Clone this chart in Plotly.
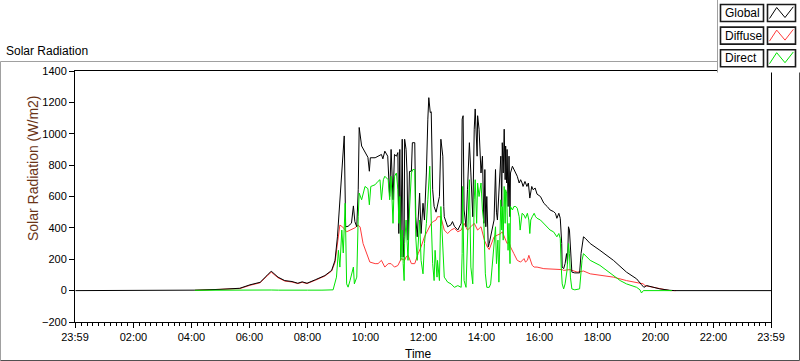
import plotly.graph_objects as go

DAY = "2024-01-02 "
X_START = "2024-01-01 23:59"
X_END = "2024-01-02 23:59"

tick_times = ["2024-01-01 23:59", DAY + "02:00", DAY + "04:00", DAY + "06:00", DAY + "08:00",
              DAY + "10:00", DAY + "12:00", DAY + "14:00", DAY + "16:00", DAY + "18:00",
              DAY + "20:00", DAY + "22:00", DAY + "23:59"]
tick_labels = ["23:59", "02:00", "04:00", "06:00", "08:00", "10:00", "12:00",
               "14:00", "16:00", "18:00", "20:00", "22:00", "23:59"]

global_times = ["00:00", "04:00", "04:07", "04:59", "05:40", "06:01", "06:22", "06:36", "06:45", "06:59",
                "07:13", "07:28", "07:40", "07:49", "07:59", "08:16", "08:36", "08:50", "08:57", "09:02",
                "09:05", "09:11", "09:16", "09:19", "09:24", "09:31", "09:35", "09:38", "09:42", "09:45",
                "09:47", "09:52", "09:59", "10:05", "10:08", "10:10", "10:20", "10:26", "10:33", "10:36",
                "10:40", "10:46", "10:50", "10:53", "10:57", "11:00", "11:04", "11:07", "11:09", "11:11",
                "11:13", "11:16", "11:18", "11:20", "11:21", "11:24", "11:26", "11:28", "11:31", "11:35",
                "11:37", "11:42", "11:44", "11:47", "11:52", "11:55", "11:59", "12:02", "12:06", "12:09",
                "12:11", "12:14", "12:16", "12:19", "12:22", "12:26", "12:29", "12:33", "12:36", "12:40",
                "12:42", "12:43", "12:50", "12:57", "13:00", "13:04", "13:11", "13:14", "13:18", "13:20",
                "13:22", "13:24", "13:28", "13:31", "13:35", "13:38", "13:42", "13:45", "13:47", "13:51",
                "13:52", "13:55", "13:59", "14:02", "14:05", "14:07", "14:09", "14:11", "14:14", "14:16",
                "14:19", "14:22", "14:26", "14:29", "14:31", "14:33", "14:36", "14:40", "14:42", "14:43",
                "14:45", "14:47", "14:49", "14:50", "14:52", "14:53", "14:55", "14:57", "14:59", "15:00",
                "15:04", "15:07", "15:11", "15:14", "15:18", "15:21", "15:24", "15:26", "15:30", "15:34",
                "15:37", "15:40", "15:44", "15:47", "15:51", "15:55", "16:02", "16:09", "16:16", "16:22",
                "16:29", "16:33", "16:36", "16:40", "16:43", "16:46", "16:47", "16:50", "16:53", "16:56",
                "16:58", "17:00", "17:02", "17:04", "17:06", "17:07", "17:13", "17:23", "17:26", "17:28",
                "17:31", "17:35", "17:38", "17:45", "18:05", "18:33", "19:00", "19:21", "19:31", "19:36",
                "19:42", "19:55", "20:09", "20:30", "20:40", "23:59"]
global_vals = [0, 0, 3, 8, 15, 37, 53, 96, 124, 86,
               64, 58, 47, 56, 47, 69, 96, 129, 193, 343,
               471, 729, 986, 407, 410, 430, 540, 440, 407, 643,
               1040, 922, 879, 850, 761, 847, 847, 857, 868, 840,
               889, 857, 600, 900, 579, 868, 857, 880, 364, 900,
               214, 965, 214, 343, 965, 900, 750, 322, 760, 761,
               943, 943, 471, 343, 622, 364, 557, 450, 750, 1093,
               1230, 1135, 1140, 643, 536, 500, 536, 600, 965, 857,
               536, 471, 407, 420, 440, 410, 386, 407, 430, 1093,
               1115, 514, 407, 643, 943, 750, 471, 1029, 1158, 857,
               1115, 1029, 750, 857, 429, 772, 407, 600, 279, 300,
               343, 386, 450, 772, 500, 450, 643, 857, 536, 943,
               750, 1029, 707, 922, 686, 900, 536, 857, 471, 750,
               793, 772, 750, 729, 686, 707, 686, 664, 696, 664,
               686, 590, 664, 643, 654, 615, 600, 557, 536, 514,
               504, 493, 461, 493, 461, 300, 150, 140, 172, 236,
               172, 407, 386, 236, 129, 118, 113, 113, 236, 290,
               343, 333, 322, 300, 257, 193, 118, 75, 38, 21,
               32, 21, 11, 2, 0, 0]

diffuse_times = ["04:07", "04:59", "05:40", "06:01", "06:22", "06:36", "06:45", "06:59", "07:13", "07:28",
                 "07:40", "07:49", "07:59", "08:16", "08:36", "08:50", "08:57", "09:07", "09:13", "09:21",
                 "09:31", "09:38", "09:45", "09:49", "09:55", "10:02", "10:09", "10:20", "10:26", "10:33",
                 "10:40", "10:47", "10:53", "11:00", "11:07", "11:14", "11:21", "11:24", "11:28", "11:35",
                 "11:42", "11:49", "11:55", "12:02", "12:09", "12:16", "12:20", "12:26", "12:29", "12:36",
                 "12:43", "12:50", "12:57", "13:04", "13:11", "13:18", "13:24", "13:31", "13:38", "13:45",
                 "13:52", "13:59", "14:06", "14:09", "14:12", "14:16", "14:19", "14:26", "14:33", "14:40",
                 "14:43", "14:47", "14:53", "14:57", "15:00", "15:07", "15:14", "15:21", "15:28", "15:31",
                 "15:35", "15:38", "15:42", "15:45", "15:49", "15:55", "16:09", "16:22", "16:36", "16:47",
                 "16:50", "17:03", "17:18", "17:31", "17:45", "18:05", "18:33", "19:00", "19:21", "19:35",
                 "19:38", "19:55", "20:09", "20:30", "20:42"]
diffuse_vals = [2, 7, 13, 34, 50, 92, 118, 82, 61, 55,
                45, 53, 45, 66, 93, 125, 180, 418, 405, 375,
                390, 400, 418, 405, 300, 236, 182, 172, 172, 193,
                150, 172, 172, 150, 160, 204, 193, 215, 225, 172,
                172, 236, 279, 343, 386, 429, 440, 450, 471, 471,
                386, 364, 386, 397, 375, 386, 429, 386, 407, 429,
                386, 407, 322, 300, 279, 262, 290, 343, 354, 364,
                375, 343, 300, 311, 279, 236, 193, 182, 204, 182,
                193, 225, 193, 161, 150, 150, 140, 139, 134, 134,
                129, 134, 118, 125, 107, 97, 86, 64, 54, 43,
                32, 21, 10, 0, 0]

direct_times = ["04:07", "05:00", "06:00", "06:36", "06:45", "07:00", "07:30", "08:00", "08:30", "08:53",
                "09:00", "09:04", "09:07", "09:11", "09:14", "09:18", "09:21", "09:24", "09:28", "09:31",
                "09:35", "09:37", "09:42", "09:45", "09:47", "09:52", "09:59", "10:05", "10:08", "10:11",
                "10:20", "10:26", "10:30", "10:33", "10:37", "10:40", "10:47", "10:50", "10:53", "10:57",
                "11:00", "11:04", "11:07", "11:09", "11:11", "11:13", "11:16", "11:18", "11:20", "11:21",
                "11:24", "11:28", "11:31", "11:35", "11:38", "11:42", "11:44", "11:47", "11:52", "11:55",
                "11:59", "12:02", "12:06", "12:09", "12:13", "12:16", "12:19", "12:22", "12:24", "12:28",
                "12:29", "12:33", "12:36", "12:38", "12:42", "12:43", "12:50", "12:57", "13:04", "13:11",
                "13:18", "13:20", "13:21", "13:24", "13:28", "13:31", "13:35", "13:38", "13:42", "13:45",
                "13:47", "13:50", "13:52", "13:55", "13:59", "14:02", "14:05", "14:08", "14:11", "14:16",
                "14:19", "14:22", "14:26", "14:29", "14:31", "14:34", "14:36", "14:38", "14:40", "14:42",
                "14:43", "14:45", "14:47", "14:49", "14:50", "14:52", "14:53", "14:55", "14:57", "14:59",
                "15:00", "15:04", "15:07", "15:11", "15:14", "15:18", "15:20", "15:22", "15:24", "15:28",
                "15:31", "15:35", "15:38", "15:40", "15:42", "15:45", "15:49", "15:52", "15:55", "16:02",
                "16:09", "16:16", "16:22", "16:29", "16:36", "16:40", "16:43", "16:45", "16:47", "16:50",
                "16:53", "16:57", "17:00", "17:02", "17:04", "17:07", "17:13", "17:23", "17:26", "17:28",
                "17:31", "17:35", "17:38", "17:45", "18:05", "18:33", "18:47", "19:00", "19:21", "19:28",
                "19:31", "19:35", "20:09", "20:34"]
direct_vals = [2, 3, 3, 8, 4, 3, 5, 3, 3, 5,
               86, 257, 150, 386, 240, 557, 43, 22, 64, 100,
               150, 43, 86, 471, 622, 579, 664, 650, 547, 664,
               675, 697, 707, 579, 707, 729, 707, 579, 729, 429,
               729, 750, 643, 429, 600, 193, 386, 172, 64, 300,
               450, 193, 514, 750, 772, 772, 343, 193, 450, 193,
               107, 300, 429, 579, 793, 450, 172, 64, 257, 86,
               193, 64, 536, 407, 193, 86, 54, 43, 21, 32,
               21, 236, 664, 64, 21, 300, 707, 150, 43, 579,
               707, 429, 686, 600, 686, 514, 429, 107, 21, 21,
               43, 150, 300, 407, 172, 322, 54, 429, 579, 386,
               536, 322, 664, 429, 643, 622, 536, 257, 429, 172,
               536, 514, 536, 536, 525, 471, 386, 471, 493, 482,
               461, 493, 450, 364, 450, 471, 493, 471, 461, 450,
               429, 407, 386, 375, 343, 364, 332, 150, 43, 11,
               43, 129, 300, 236, 86, 11, 5, 11, 129, 193,
               236, 225, 214, 193, 161, 97, 64, 43, 21, 5,
               -15, 0, 0, 0]

series_names = ["Global", "Diffuse", "Direct"]
series_colors = ["#000000", "#ff3b3b", "#00e400"]

FONT = "Liberation Sans"

# pixel helpers for frame/legend decoration (plot area: x 75..771, y 71..322)
L, R, T, B = 75, 29, 71, 39
W, H = 800 - L - R, 361 - T - B


def px(x):
    return (x - L) / W


def py(y):
    return (361 - B - y) / H


fig = go.Figure()
data = {
    "Global": (global_times, global_vals),
    "Diffuse": (diffuse_times, diffuse_vals),
    "Direct": (direct_times, direct_vals),
}
for name in ["Diffuse", "Global", "Direct"]:
    t, v = data[name]
    fig.add_trace(go.Scatter(
        x=[DAY + s for s in t], y=v, mode="lines", name=name,
        line=dict(color=series_colors[series_names.index(name)], width=1),
        showlegend=False, hoverinfo="skip"))

shapes = []
annotations = []

# outer container frame
shapes.append(dict(type="line", xref="paper", yref="paper", x0=px(0.5), x1=px(0.5), y0=py(61.5), y1=py(360.5),
                   line=dict(color="#a0a0a0", width=1)))
shapes.append(dict(type="line", xref="paper", yref="paper", x0=px(0.5), x1=px(799.5), y0=py(61.5), y1=py(61.5),
                   line=dict(color="#a0a0a0", width=1)))
shapes.append(dict(type="line", xref="paper", yref="paper", x0=px(0.5), x1=px(799.5), y0=py(360.5), y1=py(360.5),
                   line=dict(color="#505050", width=1)))
shapes.append(dict(type="line", xref="paper", yref="paper", x0=px(799.5), x1=px(799.5), y0=py(61.5), y1=py(360.5),
                   line=dict(color="#505050", width=1)))

# legend panel
shapes.append(dict(type="rect", xref="paper", yref="paper", x0=px(717.5), x1=px(800), y0=py(72.5), y1=py(0),
                   line=dict(width=0), fillcolor="white", layer="above"))
shapes.append(dict(type="line", xref="paper", yref="paper", x0=px(717.5), x1=px(717.5), y0=py(72.5), y1=py(0),
                   line=dict(color="#a0a0a0", width=1), layer="above"))

for i, name in enumerate(series_names):
    dy = i * 22.6
    y0, y1 = 4.5 + dy, 21.5 + dy
    shapes.append(dict(type="rect", xref="paper", yref="paper", x0=px(720.5), x1=px(763.5), y0=py(y1), y1=py(y0),
                       line=dict(color="#1a1a1a", width=1.6), fillcolor="white", layer="above"))
    shapes.append(dict(type="rect", xref="paper", yref="paper", x0=px(767.5), x1=px(795.5), y0=py(y1), y1=py(y0),
                       line=dict(color="#1a1a1a", width=1.6), fillcolor="white", layer="above"))
    pts = [(769.5, 18.5 + dy), (776.7, 7.5 + dy), (785, 17.5 + dy), (793.3, 6.8 + dy)]
    path = "M " + " L ".join(f"{px(a)},{py(b)}" for a, b in pts)
    shapes.append(dict(type="path", xref="paper", yref="paper", path=path,
                       line=dict(color=series_colors[i], width=1), layer="above"))
    annotations.append(dict(xref="paper", yref="paper", x=px(723), y=py(13 + dy), text=name, showarrow=False,
                            xanchor="left", yanchor="middle", font=dict(family=FONT, size=12, color="black")))

annotations.append(dict(xref="paper", yref="paper", x=px(4), y=py(50.5), text="Solar Radiation", showarrow=False,
                        xanchor="left", yanchor="middle", font=dict(family=FONT, size=12, color="black")))
annotations.append(dict(xref="paper", yref="paper", x=px(33), y=py(168), text="Solar Radiation (W/m2)",
                        showarrow=False, textangle=-90, xanchor="center", yanchor="middle",
                        font=dict(family=FONT, size=14, color="#6a3417")))
annotations.append(dict(xref="paper", yref="paper", x=px(418), y=py(354), text="Time", showarrow=False,
                        xanchor="center", yanchor="middle", font=dict(family=FONT, size=12, color="black")))

fig.update_layout(
    width=800, height=361,
    margin=dict(l=L, r=R, t=T, b=B),
    paper_bgcolor="white", plot_bgcolor="white",
    font=dict(family=FONT, size=11, color="black"),
    shapes=shapes, annotations=annotations,
    xaxis=dict(type="date", range=[X_START, X_END], tickmode="array", tickvals=tick_times,
               ticktext=tick_labels, ticks="outside", ticklen=5, tickcolor="black", showgrid=False,
               showline=True, linecolor="black", linewidth=1, mirror=True, zeroline=False,
               automargin=False,
               tickfont=dict(family=FONT, size=11, color="black"),
               minor=dict(ticks="outside", ticklen=3, tickcolor="black", dtick=12 * 60 * 1000,
                          tick0=DAY + "00:00", showgrid=False)),
    yaxis=dict(range=[-200, 1400], tickmode="linear", tick0=0, dtick=200, ticks="outside", ticklen=5,
               tickcolor="black", showgrid=False, showline=True, linecolor="black", linewidth=1,
               mirror=True, zeroline=False, automargin=False,
               tickfont=dict(family=FONT, size=11, color="black")),
)

fig.write_html("out.html", config={"displayModeBar": False, "staticPlot": True},
               post_script="document.body.style.margin='0';document.body.style.overflow='hidden';")
